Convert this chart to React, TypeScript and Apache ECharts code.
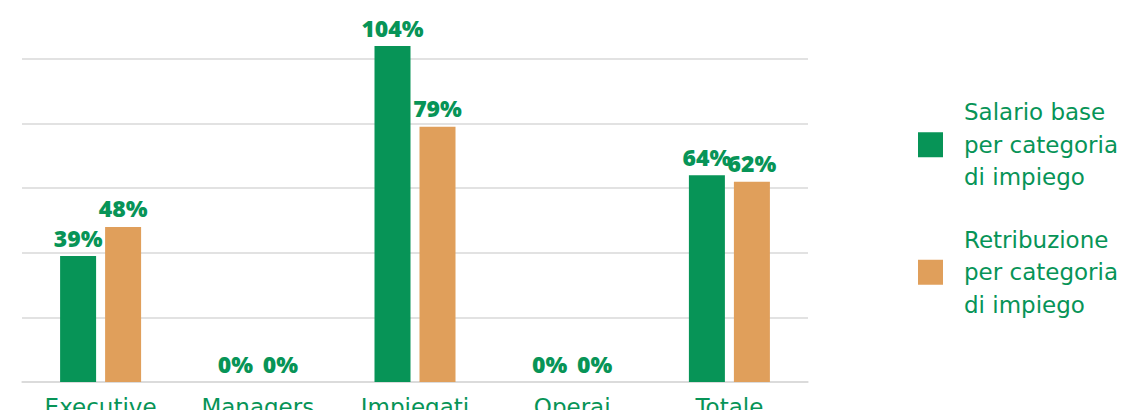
import React, { useEffect, useRef } from "react";
import * as echarts from "echarts";

const categories = ["Executive", "Managers", "Impiegati", "Operai", "Totale"];
const salarioBase = [39, 0, 104, 0, 64];
const retribuzione = [48, 0, 79, 0, 62];
const seriesNames = ["Salario base\nper categoria\ndi impiego", "Retribuzione\nper categoria\ndi impiego"];

const GREEN = "#079457";
const ORANGE = "#E09F5B";
const FONT = "DejaVu Sans";

export default function App() {
  const ref = useRef<HTMLDivElement>(null);
  useEffect(() => {
    const chart = echarts.init(ref.current!, null, { renderer: "svg" });
    const label = {
      show: true,
      position: "top",
      distance: 7,
      color: GREEN,
      fontFamily: "Open Sans",
      fontWeight: 800,
      fontSize: 23,
      formatter: (p: any) => p.value + "%",
    };
    chart.setOption({
      animation: false,
      grid: { left: 22, right: 318, top: 59, bottom: 35 },
      legend: {
        orient: "vertical",
        left: 913,
        top: 91,
        itemWidth: 25,
        itemHeight: 25,
        itemGap: 30,
        icon: "rect",
        textStyle: {
          color: GREEN,
          fontFamily: FONT,
          fontSize: 23,
          lineHeight: 32.5,
          padding: [0, 0, 0, 16],
        },
        data: seriesNames,
      },
      xAxis: {
        type: "category",
        data: categories,
        axisLine: { lineStyle: { color: "#d9d9d9", width: 1.5 } },
        axisTick: { length: 8, lineStyle: { color: "#d4d4d4", width: 1.5 } },
        axisLabel: { color: GREEN, fontFamily: FONT, fontSize: 23, margin: 13 },
      },
      yAxis: {
        type: "value",
        min: 0,
        max: 100,
        interval: 20,
        axisLabel: { show: false },
        axisLine: { show: false },
        axisTick: { show: false },
        splitLine: { lineStyle: { color: "#d9d9d9", width: 1.5 } },
      },
      series: [
        {
          name: seriesNames[0],
          type: "bar",
          data: salarioBase,
          barWidth: 36,
          barGap: "25%",
          clip: false,
          itemStyle: { color: GREEN },
          label,
        },
        {
          name: seriesNames[1],
          type: "bar",
          data: retribuzione,
          barWidth: 36,
          barGap: "25%",
          clip: false,
          itemStyle: { color: ORANGE },
          label,
        },
      ],
    });
    return () => chart.dispose();
  }, []);
  return <div ref={ref} style={{ width: 1126, height: 418, margin: -8 }} />;
}
